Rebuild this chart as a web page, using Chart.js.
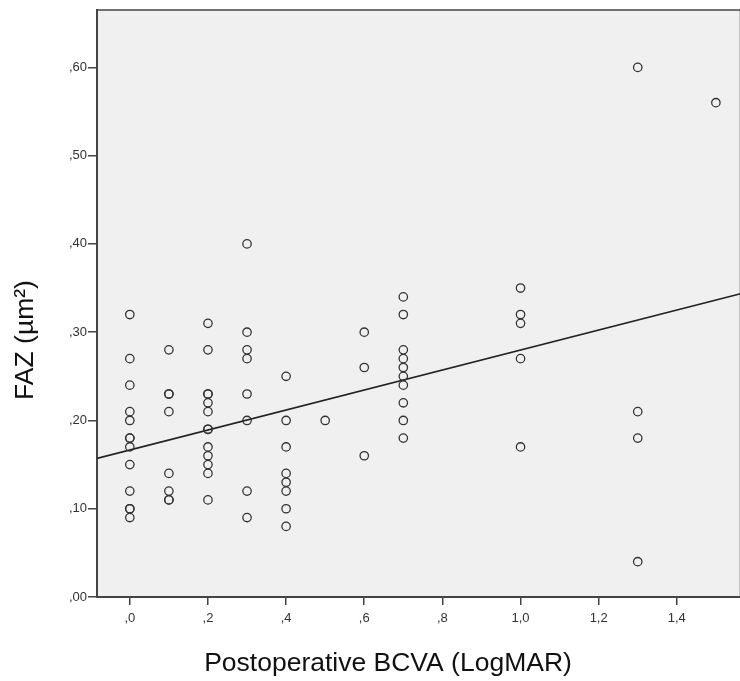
<!DOCTYPE html>
<html>
<head>
<meta charset="utf-8">
<title>FAZ vs Postoperative BCVA</title>
<script src="https://cdn.jsdelivr.net/npm/chart.js@4.4.1/dist/chart.umd.min.js"></script>
<style>
  html, body { margin: 0; padding: 0; background: #fff; overflow: hidden; }
  /* a bit wider than the window: the plot's right border falls just off-screen, like the source */
  #wrap { width: 746px; height: 681px; position: relative; }
</style>
</head>
<body>
<div id="wrap"><canvas id="chart"></canvas></div>
<script>
// ── Data ──────────────────────────────────────────────
// Postoperative BCVA (LogMAR), one entry per eye
const bcva = [
  0, 0, 0, 0, 0, 0, 0, 0, 0, 0, 0, 0, 0,
  0.1, 0.1, 0.1, 0.1, 0.1, 0.1, 0.1, 0.1,
  0.2, 0.2, 0.2, 0.2, 0.2, 0.2, 0.2, 0.2, 0.2, 0.2, 0.2, 0.2, 0.2,
  0.3, 0.3, 0.3, 0.3, 0.3, 0.3, 0.3, 0.3,
  0.4, 0.4, 0.4, 0.4, 0.4, 0.4, 0.4, 0.4,
  0.5,
  0.6, 0.6, 0.6,
  0.7, 0.7, 0.7, 0.7, 0.7, 0.7, 0.7, 0.7, 0.7, 0.7,
  1.0, 1.0, 1.0, 1.0, 1.0,
  1.3, 1.3, 1.3, 1.3,
  1.5
]

// FAZ (µm²), same order as bcva
const faz = [
  0.32, 0.27, 0.24, 0.21, 0.20, 0.18, 0.18, 0.17, 0.15, 0.12, 0.10, 0.10, 0.09,
  0.28, 0.23, 0.23, 0.21, 0.14, 0.12, 0.11, 0.11,
  0.31, 0.28, 0.23, 0.23, 0.22, 0.21, 0.19, 0.19, 0.17, 0.16, 0.15, 0.14, 0.11,
  0.40, 0.30, 0.28, 0.27, 0.23, 0.20, 0.12, 0.09,
  0.25, 0.20, 0.17, 0.14, 0.13, 0.12, 0.10, 0.08,
  0.20,
  0.30, 0.26, 0.16,
  0.34, 0.32, 0.28, 0.27, 0.26, 0.25, 0.24, 0.22, 0.20, 0.18,
  0.35, 0.32, 0.31, 0.27, 0.17,
  0.60, 0.21, 0.18, 0.04,
  0.56
]

// fit line as drawn in the figure
const FIT_INTERCEPT = 0.1665
const FIT_SLOPE     = 0.1133

const X_TICKS = [0, 0.2, 0.4, 0.6, 0.8, 1.0, 1.2, 1.4]
const Y_TICKS = [0, 0.1, 0.2, 0.3, 0.4, 0.5, 0.6]
const X_MIN = -0.084, X_MAX = 1.563
const Y_MIN = 0,      Y_MAX = 0.665

const X_TITLE = 'Postoperative BCVA (LogMAR)'
const Y_TITLE = 'FAZ (µm²)'

// ── Helpers ───────────────────────────────────────────
// SPSS style: ",2"  "1,0"  ",60"
function spssLabel(v, digits) {
  let s = Number(v).toFixed(digits).replace('.', ',')
  if (s.startsWith('0,')) s = s.slice(1)
  return s
}

const points  = bcva.map((x, i) => ({ x, y: faz[i] }))
const fitLine = [X_MIN, X_MAX].map(x => ({ x, y: FIT_INTERCEPT + FIT_SLOPE * x }))

const AXIS_COLOR = '#444'
const FONT = 'Liberation Sans, Arial, sans-serif'

// ── Plugins ───────────────────────────────────────────
const plotFrame = {
  id: 'plotFrame',
  beforeDraw(chart) {
    const { ctx, chartArea: a } = chart
    ctx.save()
    ctx.fillStyle = '#f0f0f0'
    ctx.fillRect(a.left, a.top, a.right - a.left, a.bottom - a.top)
    ctx.restore()
  },
  afterDraw(chart) {
    const { ctx, chartArea: a } = chart
    ctx.save()
    ctx.strokeStyle = AXIS_COLOR
    ctx.lineWidth = 1.5
    ctx.beginPath()
    ctx.moveTo(a.left, a.top)
    ctx.lineTo(a.right, a.top)
    ctx.lineTo(a.right, a.bottom)
    ctx.stroke()
    ctx.restore()
  }
}

const axisTitles = {
  id: 'axisTitles',
  afterDraw(chart) {
    const { ctx } = chart
    ctx.save()
    ctx.fillStyle = '#111'
    ctx.font = '26.5px ' + FONT
    ctx.textAlign = 'center'
    ctx.textBaseline = 'middle'
    ctx.fillText(X_TITLE, 388, 664)
    ctx.translate(26, 340)
    ctx.rotate(-Math.PI / 2)
    ctx.fillText(Y_TITLE, 0, 0)
    ctx.restore()
  }
}

// ── Chart ─────────────────────────────────────────────
new Chart(document.getElementById('chart'), {
  type: 'scatter',
  data: {
    datasets: [
      {
        label: 'FAZ',
        data: points,
        pointStyle: 'circle',
        pointRadius: 4.2,
        pointHoverRadius: 4.2,
        pointBorderWidth: 1.3,
        pointBorderColor: '#333',
        pointBackgroundColor: 'rgba(0,0,0,0)'
      },
      {
        label: 'Fit',
        type: 'line',
        data: fitLine,
        borderColor: '#222',
        borderWidth: 1.6,
        pointRadius: 0,
        fill: false
      }
    ]
  },
  options: {
    responsive: true,
    maintainAspectRatio: false,
    animation: false,
    layout: { padding: { top: 10, right: 0, left: 0, bottom: 0 } },
    plugins: {
      legend: { display: false },
      tooltip: { enabled: false }
    },
    scales: {
      x: {
        type: 'linear',
        min: X_MIN,
        max: X_MAX,
        afterBuildTicks: s => { s.ticks = X_TICKS.map(value => ({ value })) },
        afterFit: s => { s.height = 84 },
        ticks: {
          autoSkip: false,
          maxRotation: 0,
          padding: 6,
          color: '#333',
          font: { family: FONT, size: 13 },
          callback: v => spssLabel(v, 1)
        },
        grid: { drawOnChartArea: false, drawTicks: true, tickLength: 8, color: AXIS_COLOR, lineWidth: 1.5 },
        border: { display: true, color: AXIS_COLOR, width: 2 }
      },
      y: {
        type: 'linear',
        min: Y_MIN,
        max: Y_MAX,
        afterBuildTicks: s => { s.ticks = Y_TICKS.map(value => ({ value })) },
        afterFit: s => { s.width = 97 },
        ticks: {
          autoSkip: false,
          padding: 1,
          color: '#333',
          font: { family: FONT, size: 13 },
          callback: v => spssLabel(v, 2)
        },
        grid: { drawOnChartArea: false, drawTicks: true, tickLength: 9, color: AXIS_COLOR, lineWidth: 1.5 },
        border: { display: true, color: AXIS_COLOR, width: 2 }
      }
    }
  },
  plugins: [plotFrame, axisTitles]
})
</script>
</body>
</html>
